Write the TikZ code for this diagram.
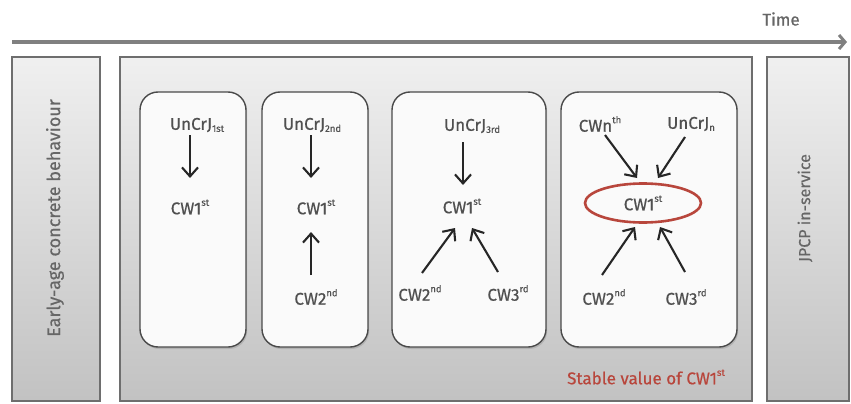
\documentclass[tikz,border=0pt]{standalone}
\usepackage{fontspec}
\setmainfont{Fira Sans}[FakeBold=0.6]
\usetikzlibrary{arrows.meta,shadows,shapes.geometric}
\definecolor{txt}{HTML}{505050}
\definecolor{vtxt}{HTML}{666666}
\definecolor{redc}{HTML}{B8463C}
\definecolor{panelb}{HTML}{6E6E6E}
\definecolor{cardb}{HTML}{4A4A4A}
\newcommand\myup[1]{\raisebox{0.5em}{\fontsize{9.5}{10}\selectfont #1}}
\newcommand\mydn[1]{\raisebox{-0.12em}{\fontsize{9.5}{10}\selectfont #1}}
\begin{document}
\begin{tikzpicture}[x=1pt,y=-1pt,
  panel/.style={draw=panelb, line width=1.2pt, top color=black!6, bottom color=black!24, minimum height=344pt, inner sep=0pt},
  card/.style={draw=cardb, line width=1.4pt, fill=black!2, rounded corners=18pt, minimum height=255pt, inner sep=0pt,
    drop shadow={opacity=0.3, shadow xshift=1.2pt, shadow yshift=-2pt}},
  lbl/.style={font=\fontsize{17}{19}\selectfont, text=txt, inner sep=1pt},
  vlbl/.style={text=vtxt, rotate=90, inner sep=1pt},
  arr/.style={-{Straight Barb[length=9pt,width=16pt,line width=2.1pt]}, line width=2.1pt, black!85},
  timearr/.style={-{Straight Barb[length=6pt,width=14pt,line width=3pt]}, line width=3.5pt, black!50},
  ring/.style={ellipse, draw=redc, line width=2.6pt, minimum width=116pt, minimum height=39pt, inner sep=0pt}
]
\useasboundingbox (0,0) rectangle (851,404);
% time arrow
\coordinate (ts) at (12,42);
\coordinate (te) at (847,42);
\draw[timearr] (ts) -- (te);
\node[lbl, text=vtxt] (time) at (781,19) {Time};
% panels
\node[panel, minimum width=88pt] (early) at (56,229) {};
\node[panel, minimum width=632pt] (main) at (436,229) {};
\node[panel, minimum width=82pt] (jpcp) at (808,229) {};
\node[vlbl, font=\fontsize{18}{20}\selectfont] (earlyt) at (55,218) {Early-age concrete behaviour};
\node[vlbl, font=\fontsize{16}{18}\selectfont] (jpcpt) at (805,208) {JPCP in-service};
% cards
\node[card, minimum width=106pt] (card1) at (193,219.5) {};
\node[card, minimum width=106pt] (card2) at (315,219.5) {};
\node[card, minimum width=154pt] (card3) at (469,219.5) {};
\node[card, minimum width=176pt] (card4) at (649,219.5) {};
% card 1
\node[lbl] (u1) at (197,125) {UnCrJ\mydn{1st}};
\node[lbl] (c1) at (190,207) {CW1\myup{st}};
\draw[arr] ([shift={(-7,10)}]u1.center) -- ([shift={(0,-29)}]c1.center);
% card 2
\node[lbl] (u2) at (312,125) {UnCrJ\mydn{2nd}};
\node[lbl] (c2) at (316,207) {CW1\myup{st}};
\node[lbl] (d2) at (316,297) {CW2\myup{nd}};
\draw[arr] ([shift={(-1,10)}]u2.center) -- ([shift={(-5,-29)}]c2.center);
\draw[arr] ([shift={(-5,-22)}]d2.center) -- ([shift={(-5,25)}]c2.center);
% card 3
\node[lbl] (u3) at (472,126) {UnCrJ\mydn{3rd}};
\node[lbl] (c3) at (462,206) {CW1\myup{st}};
\node[lbl] (e3) at (420,293) {CW2\myup{nd}};
\node[lbl] (f3) at (508,293) {CW3\myup{rd}};
\draw[arr] ([shift={(-9,16)}]u3.center) -- ([shift={(1,-21)}]c3.center);
\draw[arr] ([shift={(2,-20)}]e3.center) -- ([shift={(-7,22)}]c3.center);
\draw[arr] ([shift={(-10,-21)}]f3.center) -- ([shift={(10,22)}]c3.center);
% card 4
\node[lbl] (n4) at (600,124) {CWn\myup{th}};
\node[lbl] (j4) at (691,124) {UnCrJ\mydn{n}};
\node[lbl, ring] (c4) at (643,203) {CW1\myup{st}};
\node[lbl] (g4) at (604,297) {CW2\myup{nd}};
\node[lbl] (h4) at (686,297) {CW3\myup{rd}};
\draw[arr] ([shift={(5,11)}]n4.center) -- ([shift={(-6,-25)}]c4.center);
\draw[arr] ([shift={(-6,13)}]j4.center) -- ([shift={(15,-25)}]c4.center);
\draw[arr] ([shift={(-2,-22)}]g4.center) -- ([shift={(-8,24)}]c4.center);
\draw[arr] ([shift={(-1,-25)}]h4.center) -- ([shift={(17,24)}]c4.center);
% stable
\node[lbl, text=redc] (stable) at (646,377) {Stable value of CW1\myup{st}};
\end{tikzpicture}
\end{document}
